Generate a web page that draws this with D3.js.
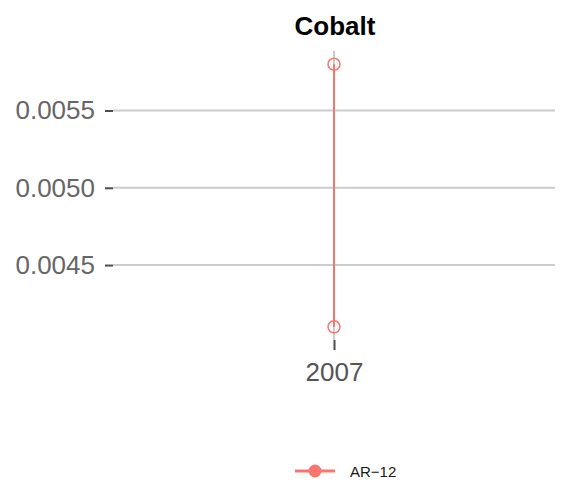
<!DOCTYPE html>
<html>
<head>
<meta charset="utf-8">
<script src="https://cdn.jsdelivr.net/npm/d3@7"></script>
<style>
  body { margin: 0; background: #fff; }
  text { font-family: "Liberation Sans", Arial, Helvetica, sans-serif; }
</style>
</head>
<body>
<div id="chart"></div>
<script>
var title = "Cobalt";
var years = ["2007"];
var series = ["AR\u221212"];
var values = [0.0058, 0.0041];
var yTicks = [0.0045, 0.0050, 0.0055];
var color = "#F8766D";

var width = 576, height = 483;
var mLeft = 113, mRight = 555, mTop = 51, mBottom = 340;

var svg = d3.select("#chart").append("svg")
    .attr("width", width)
    .attr("height", height);

var lo = d3.min(values), hi = d3.max(values), pad = (hi - lo) * 0.05;
var y = d3.scaleLinear()
    .domain([lo - pad, hi + pad])
    .range([mBottom, mTop]);

var x = d3.scalePoint()
    .domain(years)
    .range([mLeft, mRight])
    .padding(0.5);

// grid
svg.append("g").selectAll("line.hgrid")
    .data(yTicks).enter().append("line")
    .attr("x1", mLeft).attr("x2", mRight)
    .attr("y1", function(d) { return y(d); })
    .attr("y2", function(d) { return y(d); })
    .attr("stroke", "#cccccc").attr("stroke-width", 2);

svg.append("g").selectAll("line.vgrid")
    .data(years).enter().append("line")
    .attr("x1", function(d) { return x(d); })
    .attr("x2", function(d) { return x(d); })
    .attr("y1", mTop).attr("y2", mBottom)
    .attr("stroke", "#cccccc").attr("stroke-width", 2);

// axes
var yAxis = d3.axisLeft(y).tickValues(yTicks).tickSize(8).tickPadding(10)
    .tickFormat(d3.format(".4f"));
var gy = svg.append("g").attr("transform", "translate(" + mLeft + ",0)").call(yAxis);
gy.select(".domain").remove();
gy.selectAll(".tick line").attr("stroke", "#4d4d4d").attr("stroke-width", 2);
gy.selectAll(".tick text").attr("fill", "#666666").style("font-size", "26px");

var xAxis = d3.axisBottom(x).tickSize(10).tickPadding(13);
var gx = svg.append("g").attr("transform", "translate(0," + mBottom + ")").call(xAxis);
gx.select(".domain").remove();
gx.selectAll(".tick line").attr("stroke", "#4d4d4d").attr("stroke-width", 2);
gx.selectAll(".tick text").attr("fill", "#555555").style("font-size", "26px");

// series
var line = d3.line()
    .x(function() { return x(years[0]); })
    .y(function(d) { return y(d); });

svg.append("path")
    .datum(values)
    .attr("d", line)
    .attr("fill", "none")
    .attr("stroke", color)
    .attr("stroke-width", 2);

svg.selectAll("circle.pt")
    .data(values).enter().append("circle")
    .attr("class", "pt")
    .attr("cx", x(years[0]))
    .attr("cy", function(d) { return y(d); })
    .attr("r", 6)
    .attr("fill", "none")
    .attr("stroke", color)
    .attr("stroke-width", 1.5);

// title
svg.append("text")
    .attr("x", (mLeft + mRight) / 2 + 1)
    .attr("y", 35)
    .attr("text-anchor", "middle")
    .style("font-size", "26px")
    .style("font-weight", "bold")
    .attr("fill", "#000")
    .text(title);

// legend
var lg = svg.append("g").attr("transform", "translate(315,471)");
lg.append("line").attr("x1", -20).attr("x2", 20)
    .attr("stroke", color).attr("stroke-width", 3);
lg.append("circle").attr("r", 6.5).attr("fill", color);
lg.append("text").attr("x", 35).attr("y", 5.5)
    .style("font-size", "15px").attr("fill", "#1a1a1a")
    .text(series[0]);
</script>
</body>
</html>
